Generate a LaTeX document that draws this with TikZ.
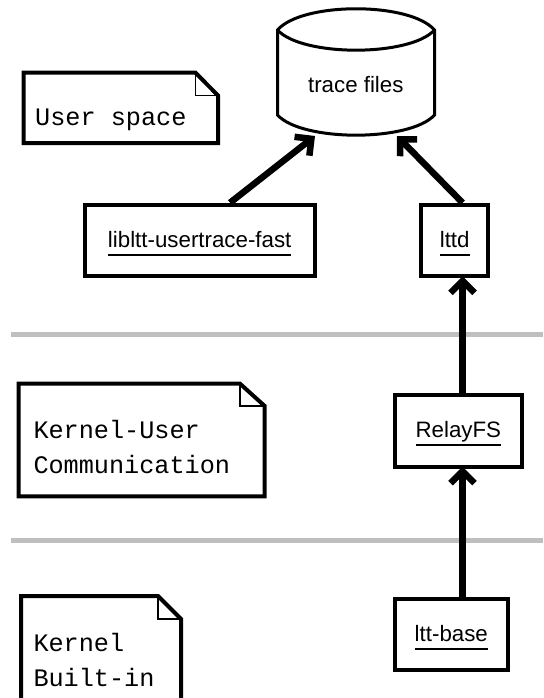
\documentclass[tikz,border=0pt]{standalone}
\usepackage{fontspec}
\setmainfont{Liberation Sans}
\setmonofont{Liberation Mono}
\usetikzlibrary{arrows.meta}
\newcommand{\uln}[1]{\setbox0\hbox{#1}\rlap{\raisebox{-8pt}[0pt][0pt]{\rule{\wd0}{2pt}}}\box0}

\begin{document}
\begin{tikzpicture}[
    x=1pt, y=-1pt,
    comp/.style={rectangle, draw, line width=4pt, minimum height=71.5pt, inner sep=0pt, font=\fontsize{22.3}{26}\selectfont, text height=16pt, text depth=2pt},
    note/.style={draw, line width=4pt, line join=miter, fill=white},
    fold/.style={draw, line width=1.7pt},
    notetext/.style={anchor=base west, align=left, inner sep=0pt, font=\ttfamily\fontsize{25.2}{35}\selectfont},
    layer/.style={line width=5pt, black!25},
    arrow/.style={-{Straight Barb[length=12pt, width=24pt]}, line width=6.5pt},
    store/.style={line width=3pt}
]
\useasboundingbox (0,0) rectangle (543,698);

% layer separators
\draw[layer] (11,334.5) -- (543,334.5);
\draw[layer] (11,540.5) -- (543,540.5);

% notes
\draw[note] (23.7,72.7) -- (195.5,72.7) -- (218,95.5) -- (218,143) -- (23.7,143) -- cycle;
\draw[fold] (195.5,72.7) -- (195.5,95.5) -- (218,95.5);
\node[notetext] (userspace) at (35,125) {User space};

\draw[note] (18.7,383.7) -- (240,383.7) -- (264.7,406) -- (264.7,496.3) -- (18.7,496.3) -- cycle;
\draw[fold] (240,383.7) -- (240,406) -- (264.7,406);
\node[notetext] (kerneluser) at (33.3,473.3) {Kernel-User\\Communication};

\draw[note] (21,596) -- (158,596) -- (181,619) -- (181,720) -- (21,720) -- cycle;
\draw[fold] (158,596) -- (158,619) -- (181,619);
\node[notetext] (builtin) at (33.3,686) {Kernel\\Built-in};

% trace files
\draw[store] (277.5,30) .. controls (302,1.7) and (410,1.7) .. (434.5,30) -- (434.5,115) .. controls (410,141.9) and (302,141.9) .. (277.5,115) -- cycle;
\draw[store] (277.5,30) .. controls (302,56.9) and (410,56.9) .. (434.5,30);
\node[font=\fontsize{22.3}{26}\selectfont, anchor=base] (files) at (355.8,92.7) {trace files};
\coordinate (filesL) at (315,136);
\coordinate (filesR) at (397,136);

% components
\node[comp, minimum width=230pt] (libltt) at (199.7,240.5) {\uln{libltt-usertrace-fast}};
\node[comp, minimum width=67.4pt] (lttd) at (454.7,240.5) {\uln{lttd}};
\node[comp, minimum width=127.3pt] (relay) at (458.3,430.8) {\uln{RelayFS}};
\node[comp, minimum width=113.3pt] (base) at (451.3,634.5) {\uln{ltt-base}};

\draw[arrow] ([xshift=30.3pt]libltt.north) -- (filesL);
\draw[arrow] ([xshift=7.8pt]lttd.north) -- (filesR);
\draw[arrow, shorten >=-2pt] ([xshift=4.2pt]relay.north) -- ([xshift=4.2pt]relay.north |- lttd.south);
\draw[arrow, shorten >=-2pt] ([xshift=11.2pt]base.north) -- ([xshift=11.2pt]base.north |- relay.south);

\end{tikzpicture}
\end{document}
